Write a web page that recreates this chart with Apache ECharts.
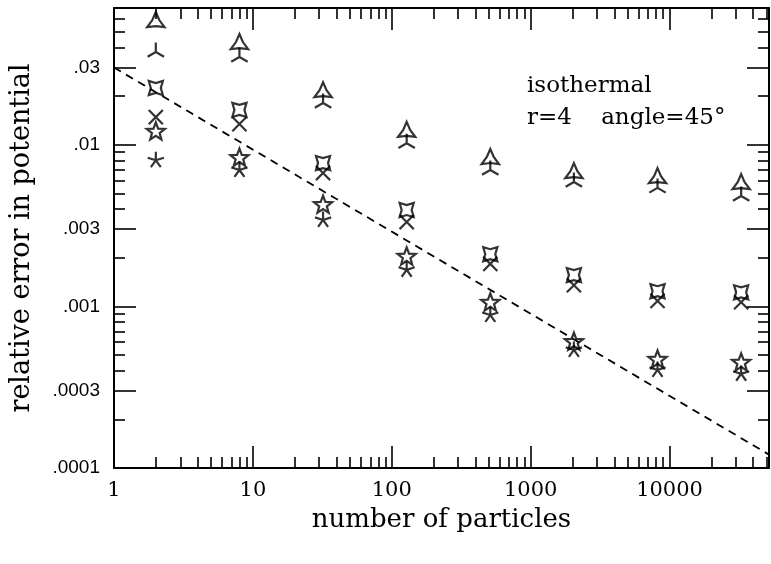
<!DOCTYPE html>
<html>
<head>
<meta charset="utf-8">
<script src="https://cdn.jsdelivr.net/npm/echarts@6/dist/echarts.min.js"></script>
<style>
html, body { margin: 0; padding: 0; background: #fff; }
#chart { width: 771px; height: 564px; }
</style>
</head>
<body>
<div id="chart"></div>
<script>
// number of particles for every column of points
var particles = [2, 8, 32, 128, 512, 2048, 8192, 32768];

// relative error, one list per symbol
var triOpen  = [0.0573, 0.0419, 0.0211, 0.0120, 0.00815, 0.00667, 0.00621, 0.0057];
var triSkel  = [0.0374, 0.0348, 0.0181, 0.0102, 0.00697, 0.00587, 0.0054, 0.00481];
var sqOpen   = [0.0224, 0.0164, 0.00769, 0.00394, 0.0021, 0.00156, 0.00124, 0.00122];
var sqSkel   = [0.0148, 0.0134, 0.00667, 0.00332, 0.00183, 0.00135, 0.00108, 0.00106];
var starOpen = [0.0120, 0.00826, 0.00423, 0.00202, 0.00105, 0.000601, 0.000466, 0.000447];
var starSkel = [0.0080, 0.00697, 0.00342, 0.00168, 0.000883, 0.000537, 0.000404, 0.000382];

// dashed guide line, two end points
var guideX = [1, 52000];
var guideY = [0.03, 0.000121];

// axis ticks and labels
var xMajor = [1, 10, 100, 1000, 10000];
var xLabels = ['1', '10', '100', '1000', '10000'];
var yMajor = [0.0001, 0.0003, 0.001, 0.003, 0.01, 0.03];
var yLabels = ['.0001', '.0003', '.001', '.003', '.01', '.03'];

var xMin = 1, xMax = 52000;
var yMin = 0.0001, yMax = 0.07;

function minorTicks(lo, hi, skip) {
    var out = [];
    for (var d = lo; d < hi; d *= 10) {
        for (var k = 2; k <= 9; k++) {
            if (skip.indexOf(k) >= 0) continue;
            var v = Number((k * d).toPrecision(6));
            if (v < hi) out.push(v);
        }
    }
    return out;
}
var xMinor = minorTicks(1, xMax, []);
var yMinor = minorTicks(0.0001, yMax, [3]);

// open n-pointed star and its skeleton, both centred in a 20x20 box
function starPath(n, inner, rot) {
    var pts = [];
    for (var i = 0; i < 2 * n; i++) {
        var r = i % 2 ? inner : 1;
        var a = rot + Math.PI * i / n;
        pts.push((10 * r * Math.cos(a)).toFixed(2) + ' ' + (10 * r * Math.sin(a)).toFixed(2));
    }
    return 'path://M-10 -10 M10 10 M' + pts.join(' L') + ' Z';
}
function skelPath(n, rot) {
    var s = 'path://M-10 -10 M10 10';
    for (var i = 0; i < n; i++) {
        var a = rot + 2 * Math.PI * i / n;
        s += ' M0 0 L' + (10 * Math.cos(a)).toFixed(2) + ' ' + (10 * Math.sin(a)).toFixed(2);
    }
    return s;
}

function pointSeries(vals, symbol, size) {
    return {
        type: 'scatter',
        data: particles.map(function (n, i) { return [n, vals[i]]; }),
        symbol: symbol,
        symbolSize: size,
        itemStyle: { color: 'rgba(0,0,0,0)', borderColor: '#000', borderWidth: 2.2 },
        emphasis: { disabled: true },
        silent: true,
        z: 5
    };
}

function nearestLabel(v, values, labels) {
    var best = 0;
    for (var i = 1; i < values.length; i++) {
        if (Math.abs(Math.log10(values[i] / v)) < Math.abs(Math.log10(values[best] / v))) best = i;
    }
    return labels[best];
}

var serif = 'DejaVu Serif';
var sans = 'Liberation Sans';
var frame = { show: true, lineStyle: { color: '#000', width: 2 } };

function xAxisOf(pos, ticks, len, withLabels, withLine) {
    var ax = {
        type: 'log', position: pos, min: xMin, max: xMax,
        axisLine: withLine ? frame : { show: false },
        axisTick: { show: true, inside: true, length: len, customValues: ticks,
            lineStyle: { color: '#000', width: 1.6 } },
        axisLabel: { show: false },
        splitLine: { show: false },
        minorTick: { show: false }
    };
    if (withLabels) {
        ax.axisLabel = {
            show: true, customValues: xMajor, margin: 12,
            fontFamily: serif, fontSize: 21, color: '#000',
            formatter: function (v) { return nearestLabel(v, xMajor, xLabels); }
        };
        ax.name = 'number of particles';
        ax.nameLocation = 'middle';
        ax.nameGap = 39;
        ax.nameTextStyle = { fontFamily: serif, fontSize: 26, color: '#000' };
    }
    return ax;
}

function yAxisOf(pos, ticks, len, withLabels, withLine) {
    var ax = {
        type: 'log', position: pos, min: yMin, max: yMax,
        axisLine: withLine ? frame : { show: false },
        axisTick: { show: true, inside: true, length: len, customValues: ticks,
            lineStyle: { color: '#000', width: 1.6 } },
        axisLabel: { show: false },
        splitLine: { show: false },
        minorTick: { show: false }
    };
    if (withLabels) {
        ax.axisLabel = {
            show: true, customValues: yMajor, margin: 14,
            fontFamily: sans, fontSize: 19, color: '#000',
            formatter: function (v) { return nearestLabel(v, yMajor, yLabels); }
        };
        ax.name = 'relative error in potential';
        ax.nameLocation = 'middle';
        ax.nameRotate = 90;
        ax.nameGap = 79;
        ax.nameTextStyle = { fontFamily: serif, fontSize: 27, color: '#000' };
    }
    return ax;
}

var chart = echarts.init(document.getElementById('chart'));
chart.setOption({
    animation: false,
    backgroundColor: '#fff',
    grid: { left: 111, right: 2, top: 8, bottom: 96 },
    xAxis: [
        xAxisOf('bottom', xMajor, 22, true, true),
        xAxisOf('bottom', xMinor, 11, false, false),
        xAxisOf('top', xMajor, 22, false, true),
        xAxisOf('top', xMinor, 11, false, false)
    ],
    yAxis: [
        yAxisOf('left', yMajor, 22, true, true),
        yAxisOf('left', yMinor, 11, false, false),
        yAxisOf('right', yMajor, 22, false, true),
        yAxisOf('right', yMinor, 11, false, false)
    ],
    graphic: [
        { type: 'text', left: 527, top: 75,
          style: { text: 'isothermal', font: '23px "DejaVu Serif"', fill: '#000' } },
        { type: 'text', left: 527, top: 107,
          style: { text: 'r=4    angle=45\u00b0', font: '23px "DejaVu Serif"', fill: '#000' } }
    ],
    series: [
        {
            type: 'line',
            data: guideX.map(function (x, i) { return [x, guideY[i]]; }),
            symbol: 'none',
            lineStyle: { color: '#000', width: 1.8, type: [8, 6] },
            silent: true,
            z: 3
        },
        pointSeries(triOpen, starPath(3, 0.4, -Math.PI / 2), 20),
        pointSeries(triSkel, skelPath(3, -Math.PI / 2), 19),
        pointSeries(sqOpen, starPath(4, 0.5, -Math.PI / 4), 20),
        pointSeries(sqSkel, skelPath(4, Math.PI / 4), 20),
        pointSeries(starOpen, starPath(5, 0.42, -Math.PI / 2), 19),
        pointSeries(starSkel, skelPath(5, -Math.PI / 2), 17)
    ]
});
</script>
</body>
</html>
